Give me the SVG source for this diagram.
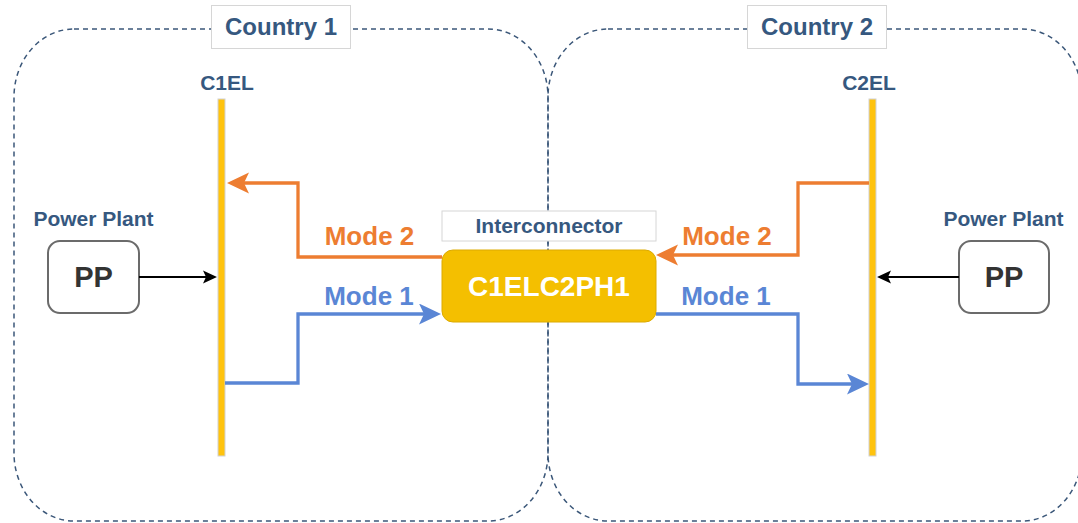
<svg xmlns="http://www.w3.org/2000/svg" width="1078" height="523" viewBox="0 0 1078 523">
<style>
.cont{fill:none;stroke:#3b5779;stroke-width:1.5;stroke-dasharray:5 4}
.lbl{fill:#ffffff;stroke:#d6d6d6;stroke-width:1}
.t{font-family:"Liberation Sans",Arial,sans-serif;font-weight:bold;text-anchor:middle}
.blue-t{fill:#36587f}
.bar{fill:#FFC30E;stroke:#d2d2d2;stroke-width:1}
.pp{fill:#ffffff;stroke:#6b6b6b;stroke-width:2}
.orange{fill:none;stroke:#ED7D31;stroke-width:3.3}
.blue{fill:none;stroke:#5A86D5;stroke-width:3.3}
.black{fill:none;stroke:#000000;stroke-width:2}
</style>
<defs>
<marker id="aO" markerUnits="userSpaceOnUse" markerWidth="22" markerHeight="22" viewBox="0 0 22 22" refX="5" refY="10.5" orient="auto"><path d="M0,0 L22,10.5 L0,21 L5,10.5 Z" fill="#ED7D31"/></marker>
<marker id="aB" markerUnits="userSpaceOnUse" markerWidth="22" markerHeight="22" viewBox="0 0 22 22" refX="5" refY="10.5" orient="auto"><path d="M0,0 L22,10.5 L0,21 L5,10.5 Z" fill="#5A86D5"/></marker>
<marker id="aK" markerUnits="userSpaceOnUse" markerWidth="14" markerHeight="14" viewBox="0 0 14 14" refX="3" refY="7" orient="auto"><path d="M0,0.5 L14,7 L0,13.5 L3,7 Z" fill="#000000"/></marker>
</defs>

<g id="country1">
<rect class="cont" x="14" y="29" width="534" height="492" rx="60" ry="68"/>
<rect class="lbl" x="211.5" y="5.5" width="139" height="43"/>
<text class="t blue-t" x="281" y="35" font-size="24">Country 1</text>
</g>
<g id="country2">
<rect class="cont" x="548" y="29" width="534" height="492" rx="60" ry="68"/>
<rect class="lbl" x="747.5" y="5.5" width="139" height="43"/>
<text class="t blue-t" x="817" y="35" font-size="24">Country 2</text>
</g>

<g id="C1EL">
<rect class="bar" x="218" y="99" width="7" height="357"/>
<text class="t blue-t" x="227" y="90" font-size="21">C1EL</text>
</g>
<g id="C2EL">
<rect class="bar" x="869" y="99" width="7" height="357"/>
<text class="t blue-t" x="869" y="90" font-size="21">C2EL</text>
</g>

<g id="pp1">
<text class="t blue-t" x="93.5" y="226" font-size="21">Power Plant</text>
<rect class="pp" x="48" y="241" width="91" height="72" rx="12"/>
<text class="t" x="93.5" y="287" font-size="29" fill="#333333">PP</text>
</g>
<g id="pp2">
<text class="t blue-t" x="1003.5" y="226" font-size="21">Power Plant</text>
<rect class="pp" x="959" y="241" width="90" height="72" rx="12"/>
<text class="t" x="1004" y="287" font-size="29" fill="#333333">PP</text>
</g>

<g id="interconnector">
<rect class="lbl" x="442" y="211" width="214" height="30"/>
<text class="t blue-t" x="549" y="233" font-size="21">Interconnector</text>
<rect x="442" y="250" width="214" height="72" rx="11" fill="#F4BF00" stroke="#dcaa00" stroke-width="1"/>
<text class="t" x="549" y="296" font-size="28" fill="#ffffff">C1ELC2PH1</text>
</g>

<g id="connectors">
<path class="black" d="M139,277 L206,277" marker-end="url(#aK)"/>
<path class="black" d="M959,277 L888,277" marker-end="url(#aK)"/>
<path class="orange" d="M442,257 L298,257 L298,183 L244,183" marker-end="url(#aO)"/>
<path class="blue" d="M225,383 L298,383 L298,314 L424,314" marker-end="url(#aB)"/>
<path class="orange" d="M869,183 L798,183 L798,255 L673,255" marker-end="url(#aO)"/>
<path class="blue" d="M656,314 L798,314 L798,384 L852,384" marker-end="url(#aB)"/>
<text class="t" x="369.5" y="245" font-size="26" fill="#ED7D31">Mode 2</text>
<text class="t" x="369" y="305" font-size="26" fill="#5A86D5">Mode 1</text>
<text class="t" x="727" y="245" font-size="26" fill="#ED7D31">Mode 2</text>
<text class="t" x="726" y="305" font-size="26" fill="#5A86D5">Mode 1</text>
</g>
</svg>
